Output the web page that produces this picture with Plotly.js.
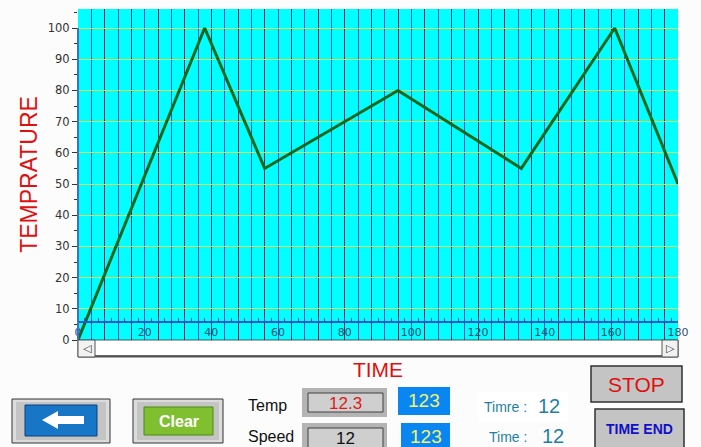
<!DOCTYPE html>
<html><head><meta charset="utf-8">
<script src="https://cdn.plot.ly/plotly-3.0.1.min.js"></script>
<style>html,body{margin:0;padding:0;background:#fcfcfc;} #chart{width:701px;height:447px;}</style>
</head><body><div id="chart"></div>
<script>
const xTicks = [0,20,40,60,80,100,120,140,160,180];
const yTicks = [0,10,20,30,40,50,60,70,80,90,100];
const timeVals = [0,38,56,96,133,161,180];
const tempVals = [0,100,55,80,55,100,50];
const xTitle = 'TIME';
const yTitle = 'TEMPRATURE';
const panelLabels = ['Temp','Speed'];
const panelValues = ['12.3','12'];
const setValues = ['123','123'];
const timerLabels = ['Timre :','Time :'];
const timerValues = ['12','12'];
const buttonLabels = ['Clear','STOP','TIME END'];

const W=701,H=447,L=78,R=678,T=9,B=340;
const px = x => (x-L)/(R-L);
const py = y => (B-y)/(B-T);
const shapes = [];
const ann = [];
function rect(x0,y0,x1,y1,fill,lc,lw){
  shapes.push({type:'rect',xref:'paper',yref:'paper',x0:px(x0),x1:px(x1),y0:py(y1),y1:py(y0),
    fillcolor:fill,line:{color:lc||'rgba(0,0,0,0)',width:lc?(lw||1):0},layer:'above'});
}
function line(x0,y0,x1,y1,c,w){
  shapes.push({type:'line',xref:'paper',yref:'paper',x0:px(x0),x1:px(x1),y0:py(y0),y1:py(y1),line:{color:c,width:w||1},layer:'above'});
}
function txt(x,y,t,size,color,fam){
  ann.push({xref:'paper',yref:'paper',x:px(x),y:py(y),text:t,showarrow:false,xanchor:'center',yanchor:'middle',
    font:{size:size,color:color,family:fam||'Liberation Sans, Arial, sans-serif'}});
}
// y axis line from first to last tick
shapes.push({type:'line',xref:'paper',yref:'y',x0:0,x1:0,y0:yTicks[0],y1:yTicks[yTicks.length-1],line:{color:'#3a6fd8',width:2},layer:'above'});
// scrollbar
rect(78,340,678,357,'#ffffff','#555555',1);
line(79,356,677,356,'#333333',1.5);
rect(78,340,95,357,'#f2f2f2','#555555',1);
rect(662,340,678,357,'#f2f2f2','#555555',1);
txt(87,348.5,'◁',11,'#333333','DejaVu Sans');
txt(670,348.5,'▷',11,'#333333','DejaVu Sans');
// back button
rect(12,399,110,443,'#dcdcdc','#333333',1);
rect(16,402,106,440,'#c4c4c4');
rect(25,405,97,436,'#1776c6','#0a3f80',1);
shapes.push({type:'path',xref:'paper',yref:'paper',layer:'above',fillcolor:'#ffffff',line:{width:0},
  path:`M${px(42)},${py(420)} L${px(58)},${py(411)} L${px(58)},${py(416)} L${px(84)},${py(416)} L${px(84)},${py(424)} L${px(58)},${py(424)} L${px(58)},${py(429)} Z`});
// clear button
rect(133,399,223,443,'#dcdcdc','#333333',1);
rect(137,402,219,440,'#c4c4c4');
rect(144,407,213,435,'#80c030','#4a8a10',1);
txt(178.5,421,'<b>'+buttonLabels[0]+'</b>',16,'#ffffff');
// panels
rect(302,388,387,417,'#b4b4b4');
rect(308,393,383,412,'#cfcfcf','#404040',1);
rect(302,423,387,449,'#b4b4b4');
rect(308,428,383,449,'#cfcfcf','#404040',1);
txt(345,403,panelValues[0],17,'#e01818');
txt(345,438,panelValues[1],17,'#111111');
txt(267,405,panelLabels[0],16,'#111111');
txt(271,437,panelLabels[1],16,'#111111');
rect(398,387,450,415,'#0a86f2');
rect(401,423,450,449,'#0a86f2');
txt(424,401,setValues[0],19,'#f4f46a');
txt(425.5,437,setValues[1],19,'#f4f46a');
// timers
rect(478,392,568,422,'#ffffff');
txt(505.5,407,timerLabels[0],14,'#1f7fa4');
txt(549,406,timerValues[0],20,'#1f7fa4');
txt(508,437,timerLabels[1],14,'#1f7fa4');
txt(553,436,timerValues[1],20,'#1f7fa4');
// STOP / TIME END
rect(591,366,682,402,'#c4c4c4','#303030',1.5);
txt(636,384,buttonLabels[1],21,'#e01010');
rect(595,409,684,449,'#c4c4c4','#303030',1.5);
txt(639.5,429,'<b>'+buttonLabels[2]+'</b>',14,'#1010c8');

const trace = {x:timeVals,y:tempVals,type:'scatter',mode:'lines',line:{color:'#17661a',width:3},hoverinfo:'skip'};
const axisTrace = {x:[xTicks[0]],y:[yTicks[0]],xaxis:'x2',type:'scatter',mode:'markers',marker:{opacity:0},hoverinfo:'skip'};

const layout = {
  width:W,height:H,margin:{l:L,r:W-R,t:T,b:H-B,pad:0},
  paper_bgcolor:'#fcfcfc',plot_bgcolor:'#00ffff',showlegend:false,
  xaxis:{range:[xTicks[0],xTicks[xTicks.length-1]],showticklabels:false,ticks:'',zeroline:false,showline:false,
    showgrid:true,tick0:0,dtick:8,gridcolor:'#1c2a66',gridwidth:1,
    minor:{dtick:4,showgrid:true,gridcolor:'#2a55d0',gridwidth:1},
    title:{text:xTitle,font:{family:'Liberation Sans, Arial, sans-serif',size:21,color:'#e01010'},standoff:22}},
  xaxis2:{overlaying:'x',anchor:'free',position:py(322),side:'bottom',range:[xTicks[0],xTicks[xTicks.length-1]],
    tickvals:xTicks,ticks:'inside',ticklen:3,tickcolor:'#2a55d0',showline:true,linecolor:'#2a55d0',linewidth:2,
    showgrid:false,zeroline:false,tickfont:{family:'DejaVu Sans, sans-serif',size:11,color:'#2f4f6f'},
    minor:{dtick:2,ticks:'inside',ticklen:3,tickcolor:'#2a55d0'}},
  yaxis:{range:[0,106.1],tickvals:yTicks,ticks:'outside',ticklen:5,tickcolor:'#333333',showline:false,zeroline:false,
    showgrid:true,gridcolor:'#dede58',gridwidth:1,
    minor:{dtick:5,ticks:'outside',ticklen:3,tickcolor:'#333333',showgrid:false},
    tickfont:{family:'DejaVu Sans, sans-serif',size:11.5,color:'#333333'},
    title:{text:yTitle,font:{family:'Liberation Sans, Arial, sans-serif',size:23,color:'#e01010'},standoff:3}},
  shapes:shapes,annotations:ann
};
Plotly.newPlot('chart',[trace,axisTrace],layout,{displayModeBar:false,staticPlot:true});
</script></body></html>
